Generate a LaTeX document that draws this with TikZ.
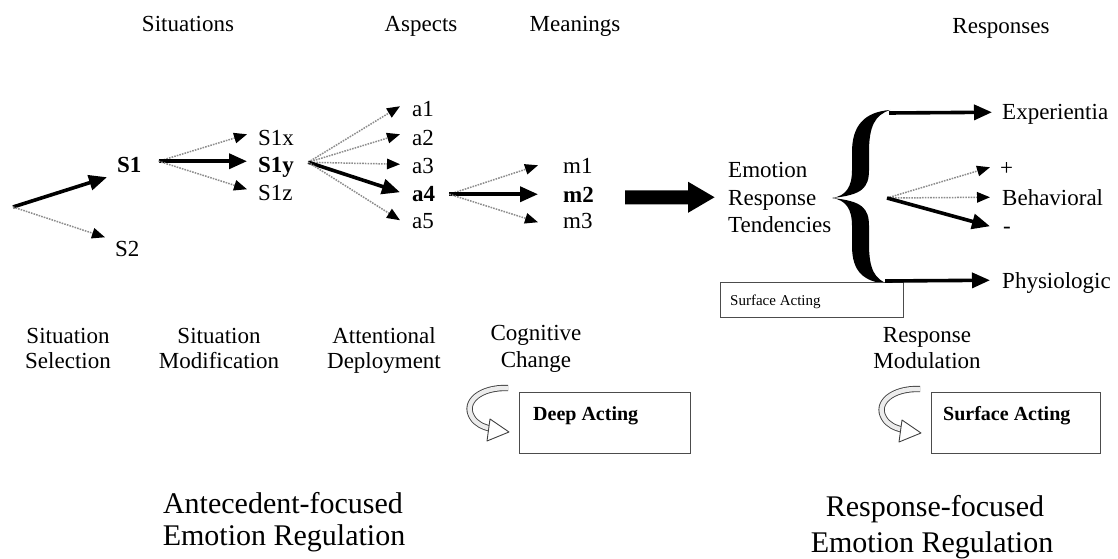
\documentclass[tikz,border=0pt]{standalone}
\usepackage{fontspec}
\setmainfont{Liberation Serif}
\usetikzlibrary{arrows.meta}
\begin{document}
\begin{tikzpicture}[x=1pt,y=-1pt,
  txt/.style={inner sep=0pt, text height=15.5pt, text depth=0pt, font=\fontsize{23}{25}\selectfont},
  txtb/.style={txt, font=\fontsize{23}{25}\selectfont\bfseries},
  big/.style={inner sep=0pt, font=\fontsize{30}{32}\selectfont},
  strong/.style={line width=3.6pt, -{Triangle[length=18pt,width=15pt]}},
  faint/.style={draw=black!45, line width=1.5pt, dash pattern=on 1.6pt off 1.1pt,
                -{Triangle[length=13pt,width=10.5pt,color=black]}},
  boxed/.style={draw=black!70, line width=1.3pt, fill=white, inner sep=0pt},
  turnarrow/.pic={
    \draw[draw=black!75, double=gray!15, double distance=4.5pt, line width=0.9pt]
      (0,0) .. controls (-28,-1) and (-45,14) .. (-36,29)
            .. controls (-32,36) and (-25,39) .. (-16,41);
    \filldraw[fill=white, draw=black!75, line width=0.9pt, line join=round]
      (-18,31) -- (1,44) -- (-21,53) -- cycle;
  },
]
\useasboundingbox (0,0) rectangle (1118,559);

% column headings
\node[txt, anchor=base] (hSit) at (188,32) {Situations};
\node[txt, anchor=base] (hAsp) at (421,32) {Aspects};
\node[txt, anchor=base] (hMea) at (575,32) {Meanings};
\node[txt, anchor=base] (hRes) at (1001,34) {Responses};

% situation selection
\coordinate (start) at (13,207);
\node[txtb, anchor=base west] (S1) at (117,172) {S1};
\node[txt, anchor=base west] (S2) at (115,256) {S2};
\draw[strong] (start) -- ([shift={(-10,5)}]S1.south west);
\draw[faint] (start) -- ([shift={(-10,-3)}]S2.north west);

% situation modification
\node[txt, anchor=base west] (S1x) at (258,145) {S1x};
\node[txtb, anchor=base west] (S1y) at (258,172) {S1y};
\node[txt, anchor=base west] (S1z) at (258,200) {S1z};
\coordinate (s1o) at ([shift={(17,-3)}]S1.east);
\draw[faint] (s1o) -- ([shift={(-11,-3)}]S1x.west);
\draw[strong] (s1o) -- ([shift={(-11,-3)}]S1y.west);
\draw[faint] (s1o) -- ([shift={(-11,-3)}]S1z.west);

% attentional deployment
\node[txt, anchor=base west] (a1) at (412,117) {a1};
\node[txt, anchor=base west] (a2) at (412,145) {a2};
\node[txt, anchor=base west] (a3) at (412,173) {a3};
\node[txtb, anchor=base west] (a4) at (412,201) {a4};
\node[txt, anchor=base west] (a5) at (412,228) {a5};
\coordinate (ao) at ([shift={(14,-2)}]S1y.east);
\draw[faint] (ao) -- ([shift={(-12,-3)}]a1.west);
\draw[faint] (ao) -- ([shift={(-12,-3)}]a2.west);
\draw[faint] (ao) -- ([shift={(-12,-1)}]a3.west);
\draw[strong] (ao) -- ([shift={(-12,-1)}]a4.west);
\draw[faint] (ao) -- ([shift={(-12,0)}]a5.west);

% cognitive change
\node[txt, anchor=base west] (m1) at (563,173) {m1};
\node[txtb, anchor=base west] (m2) at (563,202) {m2};
\node[txt, anchor=base west] (m3) at (563,228) {m3};
\coordinate (mo) at ([shift={(14,1)}]a4.east);
\draw[faint] (mo) -- ([shift={(-25,0)}]m1.west);
\draw[strong] (mo) -- ([shift={(-25,0)}]m2.west);
\draw[faint] (mo) -- ([shift={(-25,2)}]m3.west);

% emotion response tendencies
\node[txt, anchor=base west] (ert1) at (728,177) {Emotion};
\node[txt, anchor=base west] (ert2) at (728,205) {Response};
\node[txt, anchor=base west] (ert3) at (728,232) {Tendencies};
\coordinate (bigfrom) at (625,197.3);
\draw[line width=14pt, -{Triangle[length=27pt,width=29pt]}] (bigfrom) -- ([xshift=-13pt]ert2.west);

% curly brace, drawn as a filled outline (left edge down, right edge up)
\fill (890,110) .. controls (864,112) and (852,126) .. (852,152)
  -- (852,170) .. controls (852,187) and (846,196) .. (832,198)
  .. controls (846,200) and (852,209) .. (852,226)
  -- (852,246) .. controls (852,272) and (864,282) .. (888,284)
  .. controls (875,279) and (869,270) .. (869,244)
  -- (869,226) .. controls (869,208) and (862,201) .. (832,198)
  .. controls (862,195) and (869,188) .. (869,170)
  -- (869,152) .. controls (869,126) and (875,115) .. (890,110) -- cycle;
\coordinate (btop) at (889,113);
\coordinate (bmid) at (887,198);
\coordinate (bbot) at (885,281);

% response channels
\node[txt, anchor=base west] (exp) at (1002,120) {Experientia};
\node[txt, anchor=base west] (plus) at (1000,175) {+};
\node[txt, anchor=base west] (beh) at (1002,205) {Behavioral};
\node[txt, anchor=base west] (minus) at (1003,233) {-};
\node[txt, anchor=base west] (phys) at (1002,288) {Physiologic};
\draw[strong] (btop) -- ([xshift=-10pt]exp.west);
\draw[faint] (bmid) -- ([xshift=-10pt]plus.west);
\draw[faint] (bmid) -- ([xshift=-12pt]beh.west);
\draw[strong] (bmid) -- ([shift={(-13,1)}]minus.west);

\node[boxed, minimum width=183pt, minimum height=35pt, anchor=north west] (sabox) at (720,282) {};
\node[inner sep=0pt, anchor=base west, font=\fontsize{15}{17}\selectfont] (satxt)
  at ([shift={(10,23)}]sabox.north west) {Surface Acting};
\draw[strong] (bbot) -- ([xshift=-12pt]phys.west);

% strategy labels
\node[txt, anchor=base] (selA) at (68,343) {Situation};
\node[txt, anchor=base] (selB) at (68,368) {Selection};
\node[txt, anchor=base] (modA) at (219,343) {Situation};
\node[txt, anchor=base] (modB) at (219,368) {Modification};
\node[txt, anchor=base] (attA) at (384,343) {Attentional};
\node[txt, anchor=base] (attB) at (384,368) {Deployment};
\node[txt, anchor=base] (cogA) at (536,340) {Cognitive};
\node[txt, anchor=base] (cogB) at (536,367) {Change};
\node[txt, anchor=base] (rmA) at (927,342) {Response};
\node[txt, anchor=base] (rmB) at (927,368) {Modulation};

% acting boxes
\pic at (508,388) {turnarrow};
\node[boxed, minimum width=171pt, minimum height=61pt, anchor=north west] (deepbox) at (519,392) {};
\node[inner sep=0pt, anchor=base west, font=\fontsize{20}{22}\selectfont\bfseries] (deeptxt)
  at ([shift={(14,28)}]deepbox.north west) {Deep Acting};
\pic at (920,389) {turnarrow};
\node[boxed, minimum width=169pt, minimum height=61pt, anchor=north west] (surfbox) at (931,392) {};
\node[inner sep=0pt, anchor=base west, font=\fontsize{20}{22}\selectfont\bfseries] (surftxt)
  at ([shift={(12,28)}]surfbox.north west) {Surface Acting};

% regulation families
\node[big, anchor=base] (antA) at (283,513) {Antecedent-focused};
\node[big, anchor=base] (antB) at (284,545) {Emotion Regulation};
\node[big, anchor=base] (rfA) at (935,516) {Response-focused};
\node[big, anchor=base] (rfB) at (932,552) {Emotion Regulation};
\end{tikzpicture}
\end{document}
